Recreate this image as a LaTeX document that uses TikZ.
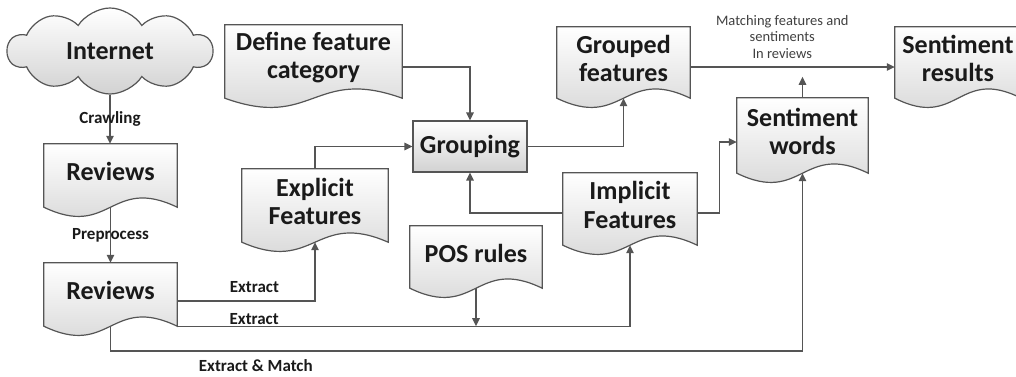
\documentclass[tikz,border=0pt]{standalone}
\usepackage{fontspec}
\setmainfont{Carlito}
\usetikzlibrary{arrows.meta,calc,shapes.symbols,backgrounds}

\definecolor{edge}{HTML}{555555}
\definecolor{shade}{HTML}{D2D2D2}
\definecolor{ink}{HTML}{1A1A1A}
\definecolor{note}{HTML}{404040}

% document shape: flat top, wavy bottom hanging 8pt below the node
\newcommand\docoutline[1]{%
  \path[docbody] (#1.north west) -- (#1.north east) -- ($(#1.south east)+(0,8)$)
    .. controls ($(#1.south)+(0,-24)$) and ($(#1.south)+(0,40)$) .. ($(#1.south west)+(0,8)$) -- cycle;
  \coordinate (#1-b) at ($(#1.south)+(0,8)$);}

\tikzset{
  docnode/.style={draw=none, inner sep=0pt, align=center, text=ink,
    font=\bfseries\fontsize{26}{28.5}\selectfont},
  docbody/.style={draw=edge, line width=1.2pt, top color=white, bottom color=shade},
  flow/.style={draw=edge, line width=1.3pt, -{Triangle[length=8pt,width=7.5pt]}},
  lbl/.style={font=\bfseries\fontsize{17}{19}\selectfont, text=ink, inner sep=0pt},
}

\begin{document}
\begin{tikzpicture}[x=1pt, y=-1pt]
\useasboundingbox (0,0) rectangle (1016,376);

% source cloud
\node[cloud, cloud puffs=10, cloud puff arc=115, cloud ignores aspect,
      minimum width=205pt, minimum height=86pt, docbody, docnode, draw=edge]
      (inet) at (110,51) {Internet};

% documents (node = flat part above the wave)
\node[docnode, minimum width=133pt, minimum height=55pt] (rev1) at (110.5,171.5) {Reviews};
\node[docnode, minimum width=133pt, minimum height=55pt] (rev2) at (110.5,290.5) {Reviews};
\node[docnode, minimum width=177pt, minimum height=65pt] (def)  at (313.5,57.5)  {Define feature\\category};
\node[docnode, minimum width=146pt, minimum height=65pt] (exp)  at (315,201.5)   {Explicit\\Features};
\node[docnode, minimum width=132pt, minimum height=54pt] (pos)  at (476,253)     {POS rules};
\node[docnode, minimum width=134pt, minimum height=64pt] (imp)  at (630,205)     {Implicit\\Features};
\node[docnode, minimum width=133pt, minimum height=63pt] (gf)   at (623.5,58.5)  {Grouped\\features};
\node[docnode, minimum width=131pt, minimum height=67pt] (sw)   at (802.5,131.5) {Sentiment\\words};
\node[docnode, minimum width=126pt, minimum height=63pt] (sr)   at (958,58.5)    {Sentiment\\results};

% process box
\node[docnode, docbody, minimum width=114pt, minimum height=51pt] (grp) at (470,146.5) {Grouping};

\begin{scope}[on background layer]
  \foreach \d in {rev1,rev2,def,exp,pos,imp,gf,sw,sr} {\docoutline{\d}}
\end{scope}

\coordinate (rev2-se) at ($(rev2.south east)+(0,8)$);
\coordinate (matchrow) at (0,351);
\coordinate (swtip) at ($(sw.north)+(0,-21)$);

% connectors
\draw[flow] (inet.south) -- (inet.south |- rev1.north) node[lbl, midway] {Crawling};
\draw[flow] (rev1-b) -- (rev2.north) node[lbl, midway] {Preprocess};
\draw[flow] ([yshift=-10.5pt]rev2.east) -| (exp-b) node[lbl, pos=0.28, above=8pt] {Extract};
\draw[flow] (rev2-se) -| (imp-b) node[lbl, pos=0.085, above=1pt] {Extract};
\draw[flow] (pos-b) -- (pos-b |- rev2-se);
\draw[flow] (rev2-b) |- (sw-b |- matchrow) node[lbl, pos=0.605, below=8pt] {Extract \& Match} -- (sw-b);
\draw[flow] ([yshift=-9.5pt]def.east) -| (grp.north);
\draw[flow] (exp.north) |- (grp.west);
\draw[flow] ([yshift=-8pt]imp.west) -| (grp.south);
\draw[flow] (grp.east) -| (gf-b);
\draw[flow] ([yshift=-8pt]imp.east) -- ++(22,0) |- ([yshift=-10.5pt]sw.west);
\draw[flow] ([yshift=-8.5pt]gf.east) -- ([yshift=-8.5pt]gf.east -| sr.west)
  node[pos=0.45, above=8pt, inner sep=0pt, align=center, text=note,
       font=\fontsize{14.5}{16.5}\selectfont] {Matching features and\\sentiments\\In reviews};
\draw[flow] (sw.north) -- (swtip);
\end{tikzpicture}
\end{document}
